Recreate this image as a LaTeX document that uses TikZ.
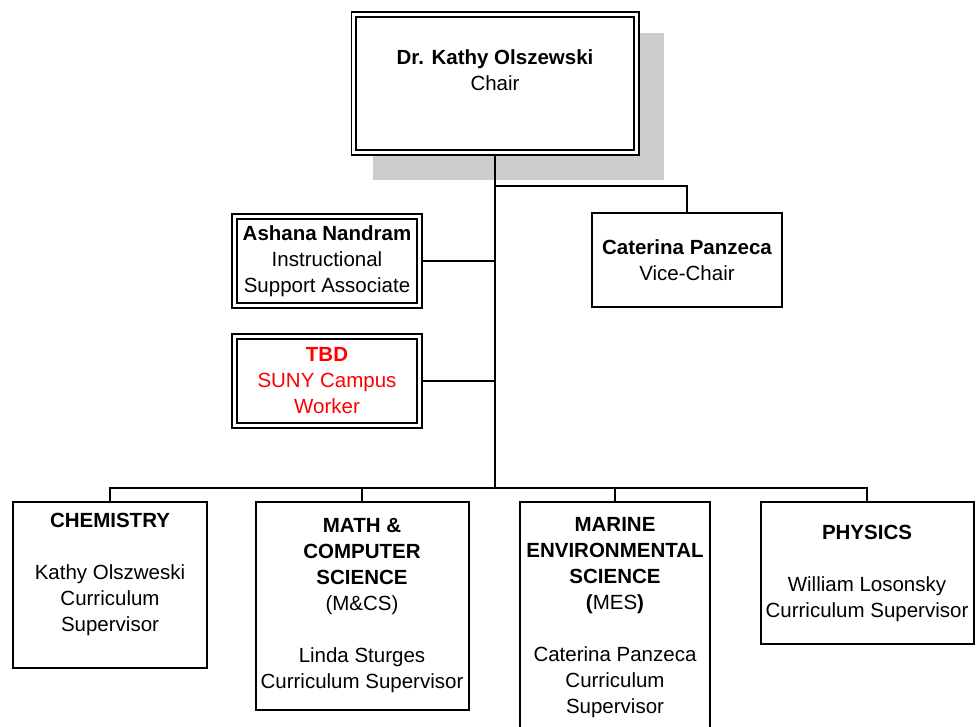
\documentclass[tikz,border=0pt]{standalone}
\usepackage{fontspec}
\setmainfont{Liberation Sans}
\begin{document}
\begin{tikzpicture}[x=1pt,y=-1pt,
    font=\fontsize{20.5}{26}\selectfont,
    unit/.style={draw,line width=2pt,fill=white,align=center,inner sep=0pt},
    staff/.style={unit,double,line width=1.8pt,double distance=3pt}]
  \clip (0,0) rectangle (976,727);
  \fill[black!20] (373,33) rectangle (664,180);
  \draw
    (495,83.5) node[staff,minimum width=282.4pt,minimum height=138.4pt] (chair)
      {\textbf{Dr. Kathy Olszewski}\\Chair\\\mbox{}}
    (687,260) node[unit,minimum width=190pt,minimum height=94pt] (vice)
      {\textbf{Caterina Panzeca}\\Vice-Chair}
    (327,261) node[staff,minimum width=185.4pt,minimum height=88.4pt] (ashana)
      {\textbf{Ashana Nandram}\\Instructional\\Support Associate}
    (327,381) node[staff,minimum width=185.4pt,minimum height=89.4pt,text=red] (tbd)
      {\textbf{TBD}\\SUNY Campus\\Worker}
    (110,585) node[unit,minimum width=194pt,minimum height=166pt] (chem)
      {\textbf{CHEMISTRY}\\\mbox{}\\Kathy Olszweski\\Curriculum\\Supervisor\\\mbox{}}
    (362,606) node[unit,minimum width=213pt,minimum height=208pt] (math)
      {\textbf{MATH \&}\\\textbf{COMPUTER}\\\textbf{SCIENCE}\\(M\&CS)\\\mbox{}\\Linda Sturges\\Curriculum Supervisor}
    (615,618) node[unit,minimum width=190pt,minimum height=232pt] (marine)
      {\textbf{MARINE}\\\textbf{ENVIRONMENTAL}\\\textbf{SCIENCE}\\\textbf{(}MES\textbf{)}\\\mbox{}\\Caterina Panzeca\\Curriculum\\Supervisor}
    (867,573) node[unit,minimum width=213pt,minimum height=142pt] (phys)
      {\textbf{PHYSICS}\\\mbox{}\\William Losonsky\\Curriculum Supervisor};
  \coordinate (split) at (495,186);
  \coordinate (bus) at (495,488);
  \begin{scope}[line width=2pt]
    \draw (chair.south) -- (bus);
    \draw (split) -| (vice.north);
    \draw (ashana.east) -- (ashana.east -| bus);
    \draw (tbd.east) -- (tbd.east -| bus);
    \draw (chem.north) |- (bus);
    \draw (math.north) |- (bus);
    \draw (marine.north) |- (bus);
    \draw (phys.north) |- (bus);
  \end{scope}
\end{tikzpicture}
\end{document}
